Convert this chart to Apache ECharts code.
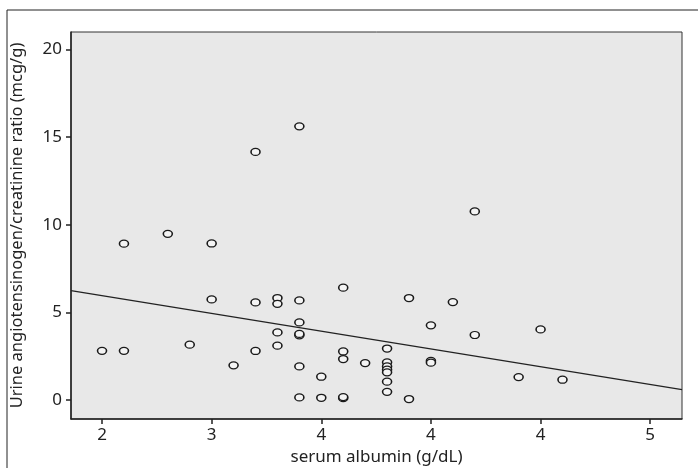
<!DOCTYPE html>
<html>
<head>
<meta charset="utf-8">
<script src="https://cdn.jsdelivr.net/npm/echarts@6/dist/echarts.min.js"></script>
<style>
  html, body { margin: 0; padding: 0; background: #fff; }
  #chart { width: 698px; height: 468px; }
</style>
</head>
<body>
<div id="chart"></div>
<script>
var xTickValues = [2, 3, 4, 5, 6, 7];
var xTickLabels = ['2', '3', '4', '4', '4', '5'];
var yTickValues = [0, 5, 10, 15, 20];

var albumin = [
  2.0, 2.2, 2.2, 2.6, 2.8, 3.0, 3.0, 3.2, 3.4, 3.4, 3.4,
  3.6, 3.6, 3.6, 3.6, 3.8, 3.8, 3.8, 3.8, 3.8, 3.8, 3.8,
  4.0, 4.0, 4.2, 4.2, 4.2, 4.2, 4.2, 4.4,
  4.6, 4.6, 4.6, 4.6, 4.6, 4.6, 4.6, 4.8, 4.8,
  5.0, 5.0, 5.0, 5.2, 5.4, 5.4, 5.8, 6.0, 6.2
];
var ratio = [
  2.82, 8.93, 2.82, 9.49, 3.17, 8.94, 5.75, 1.99, 14.16, 5.58, 2.81,
  5.83, 5.5, 3.87, 3.11, 15.62, 5.69, 4.44, 3.7, 3.78, 1.93, 0.16,
  1.34, 0.14, 6.42, 2.78, 2.35, 0.12, 0.18, 2.12,
  2.95, 2.16, 1.93, 1.74, 1.59, 1.06, 0.48, 5.83, 0.07,
  4.27, 2.24, 2.14, 5.6, 10.77, 3.72, 1.32, 4.04, 1.17
];
// fitted line end points
var fitX = [1.717, 7.29];
var fitY = [6.25, 0.6];

var points = albumin.map(function (v, i) { return [v, ratio[i]]; });
var fitLine = fitX.map(function (v, i) { return [v, fitY[i]]; });

var font = 'Noto Sans';
var chart = echarts.init(document.getElementById('chart'));
chart.setOption({
  animation: false,
  backgroundColor: '#fff',
  graphic: [{
    type: 'rect',
    shape: { x: 7, y: 10, width: 696, height: 470 },
    style: { fill: 'none', stroke: '#222', lineWidth: 1 },
    silent: true
  }],
  grid: {
    left: 71, right: 16, top: 32, bottom: 49,
    outerBoundsMode: 'none',
    containLabel: false,
    show: true,
    backgroundColor: '#e8e8e8',
    borderColor: '#333',
    borderWidth: 1
  },
  xAxis: {
    type: 'value',
    min: 1.717,
    max: 7.29,
    name: 'serum albumin (g/dL)',
    nameLocation: 'middle',
    nameGap: 28,
    nameTextStyle: { fontFamily: font, fontSize: 17, color: '#222' },
    axisLine: { show: true, onZero: false, lineStyle: { color: '#222', width: 1.5 } },
    axisTick: { show: true, length: 5, customValues: xTickValues, lineStyle: { color: '#222', width: 1.5 } },
    axisLabel: {
      customValues: xTickValues,
      margin: 8,
      fontFamily: font, fontSize: 17, color: '#222',
      formatter: function (v) {
        var i = xTickValues.indexOf(Math.round(v));
        return i >= 0 ? xTickLabels[i] : '';
      }
    },
    splitLine: { show: false }
  },
  yAxis: {
    type: 'value',
    min: -1.07,
    max: 21.0,
    name: 'Urine angiotensinogen/creatinine ratio (mcg/g)',
    nameLocation: 'middle',
    nameGap: 45,
    nameTextStyle: { fontFamily: font, fontSize: 16.5, color: '#222' },
    axisLine: { show: true, onZero: false, lineStyle: { color: '#222', width: 1.5 } },
    axisTick: { show: true, length: 5, customValues: yTickValues, lineStyle: { color: '#222', width: 1.5 } },
    axisLabel: {
      customValues: yTickValues,
      margin: 9,
      fontFamily: font, fontSize: 17, color: '#222'
    },
    splitLine: { show: false }
  },
  series: [
    {
      type: 'line',
      data: fitLine,
      symbol: 'none',
      lineStyle: { color: '#222', width: 1.3 },
      z: 2
    },
    {
      type: 'scatter',
      data: points,
      symbol: 'circle',
      symbolSize: [9, 7],
      itemStyle: { color: '#f4f4f4', borderColor: '#1a1a1a', borderWidth: 1.4, opacity: 1 },
      z: 3
    }
  ]
});
</script>
</body>
</html>
